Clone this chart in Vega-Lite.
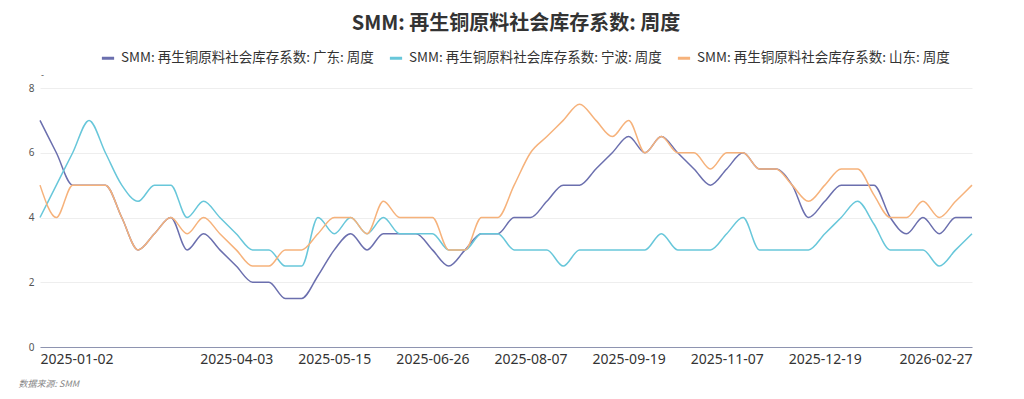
{
  "$schema": "https://vega.github.io/schema/vega-lite/v6.json",
  "width": 932,
  "height": 259,
  "autosize": {"type": "none"},
  "padding": {"left": 40, "top": 88, "right": 52, "bottom": 52},
  "background": "#ffffff",
  "title": {
    "text": "SMM: 再生铜原料社会库存系数: 周度",
    "font": "Noto Sans CJK SC",
    "fontSize": 20,
    "fontWeight": "bold",
    "color": "#333333",
    "anchor": "middle",
    "offset": 16,
    "dx": 10
  },
  "data": {
    "values": [
      {"d": "2025-01-02", "广东": 7, "宁波": 4, "山东": 5},
      {"d": "2025-01-09", "广东": 6, "宁波": 5, "山东": 4},
      {"d": "2025-01-16", "广东": 5, "宁波": 6, "山东": 5},
      {"d": "2025-01-23", "广东": 5, "宁波": 7, "山东": 5},
      {"d": "2025-02-06", "广东": 5, "宁波": 6, "山东": 5},
      {"d": "2025-02-13", "广东": 4, "宁波": 5, "山东": 4},
      {"d": "2025-02-20", "广东": 3, "宁波": 4.5, "山东": 3},
      {"d": "2025-02-27", "广东": 3.5, "宁波": 5, "山东": 3.5},
      {"d": "2025-03-06", "广东": 4, "宁波": 5, "山东": 4},
      {"d": "2025-03-13", "广东": 3, "宁波": 4, "山东": 3.5},
      {"d": "2025-03-20", "广东": 3.5, "宁波": 4.5, "山东": 4},
      {"d": "2025-03-27", "广东": 3, "宁波": 4, "山东": 3.5},
      {"d": "2025-04-03", "广东": 2.5, "宁波": 3.5, "山东": 3},
      {"d": "2025-04-10", "广东": 2, "宁波": 3, "山东": 2.5},
      {"d": "2025-04-17", "广东": 2, "宁波": 3, "山东": 2.5},
      {"d": "2025-04-24", "广东": 1.5, "宁波": 2.5, "山东": 3},
      {"d": "2025-04-30", "广东": 1.5, "宁波": 2.5, "山东": 3},
      {"d": "2025-05-08", "广东": 2.2, "宁波": 4, "山东": 3.5},
      {"d": "2025-05-15", "广东": 3, "宁波": 3.5, "山东": 4},
      {"d": "2025-05-22", "广东": 3.5, "宁波": 4, "山东": 4},
      {"d": "2025-05-29", "广东": 3, "宁波": 3.5, "山东": 3.5},
      {"d": "2025-06-05", "广东": 3.5, "宁波": 4, "山东": 4.5},
      {"d": "2025-06-12", "广东": 3.5, "宁波": 3.5, "山东": 4},
      {"d": "2025-06-19", "广东": 3.5, "宁波": 3.5, "山东": 4},
      {"d": "2025-06-26", "广东": 3, "宁波": 3.5, "山东": 4},
      {"d": "2025-07-03", "广东": 2.5, "宁波": 3, "山东": 3},
      {"d": "2025-07-10", "广东": 3, "宁波": 3, "山东": 3},
      {"d": "2025-07-17", "广东": 3.5, "宁波": 3.5, "山东": 4},
      {"d": "2025-07-24", "广东": 3.5, "宁波": 3.5, "山东": 4},
      {"d": "2025-07-31", "广东": 4, "宁波": 3, "山东": 5},
      {"d": "2025-08-07", "广东": 4, "宁波": 3, "山东": 6},
      {"d": "2025-08-14", "广东": 4.5, "宁波": 3, "山东": 6.5},
      {"d": "2025-08-21", "广东": 5, "宁波": 2.5, "山东": 7},
      {"d": "2025-08-28", "广东": 5, "宁波": 3, "山东": 7.5},
      {"d": "2025-09-04", "广东": 5.5, "宁波": 3, "山东": 7},
      {"d": "2025-09-12", "广东": 6, "宁波": 3, "山东": 6.5},
      {"d": "2025-09-19", "广东": 6.5, "宁波": 3, "山东": 7},
      {"d": "2025-09-26", "广东": 6, "宁波": 3, "山东": 6},
      {"d": "2025-10-10", "广东": 6.5, "宁波": 3.5, "山东": 6.5},
      {"d": "2025-10-17", "广东": 6, "宁波": 3, "山东": 6},
      {"d": "2025-10-24", "广东": 5.5, "宁波": 3, "山东": 6},
      {"d": "2025-10-31", "广东": 5, "宁波": 3, "山东": 5.5},
      {"d": "2025-11-07", "广东": 5.5, "宁波": 3.5, "山东": 6},
      {"d": "2025-11-14", "广东": 6, "宁波": 4, "山东": 6},
      {"d": "2025-11-21", "广东": 5.5, "宁波": 3, "山东": 5.5},
      {"d": "2025-11-28", "广东": 5.5, "宁波": 3, "山东": 5.5},
      {"d": "2025-12-05", "广东": 5, "宁波": 3, "山东": 5},
      {"d": "2025-12-12", "广东": 4, "宁波": 3, "山东": 4.5},
      {"d": "2025-12-19", "广东": 4.5, "宁波": 3.5, "山东": 5},
      {"d": "2025-12-26", "广东": 5, "宁波": 4, "山东": 5.5},
      {"d": "2026-01-02", "广东": 5, "宁波": 4.5, "山东": 5.5},
      {"d": "2026-01-09", "广东": 5, "宁波": 3.8, "山东": 4.7},
      {"d": "2026-01-16", "广东": 4, "宁波": 3, "山东": 4},
      {"d": "2026-01-23", "广东": 3.5, "宁波": 3, "山东": 4},
      {"d": "2026-01-30", "广东": 4, "宁波": 3, "山东": 4.5},
      {"d": "2026-02-06", "广东": 3.5, "宁波": 2.5, "山东": 4},
      {"d": "2026-02-13", "广东": 4, "宁波": 3, "山东": 4.5},
      {"d": "2026-02-27", "广东": 4, "宁波": 3.5, "山东": 5}
    ]
  },
  "transform": [{"fold": ["广东", "宁波", "山东"], "as": ["s", "v"]}],
  "encoding": {
    "x": {
      "field": "d",
      "type": "ordinal",
      "sort": null,
      "scale": {"type": "point", "padding": 0},
      "axis": {
        "values": ["2025-01-02", "2025-04-03", "2025-05-15", "2025-06-26", "2025-08-07", "2025-09-19", "2025-11-07", "2025-12-19", "2026-02-27"],
        "labelAngle": 0,
        "labelAlign": {"condition": [{"test": "datum.value == '2025-01-02'", "value": "left"}, {"test": "datum.value == '2026-02-27'", "value": "right"}], "value": "center"},
        "labelFont": "Noto Sans",
        "labelFontSize": 14,
        "labelColor": "#333333",
        "labelPadding": 5,
        "ticks": false,
        "grid": false,
        "domainColor": "#8e94b0",
        "domainWidth": 1,
        "title": "数据来源: SMM",
        "titleFont": "Noto Sans CJK SC",
        "titleFontSize": 9,
        "titleFontStyle": "italic",
        "titleFontWeight": "normal",
        "titleColor": "#888888",
        "titleAnchor": "start",
        "titleAlign": "left",
        "titleX": -22,
        "titleY": 32
      }
    },
    "y": {
      "field": "v",
      "type": "quantitative",
      "scale": {"domain": [0, 8], "nice": false},
      "axis": {
        "values": [0, 2, 4, 6, 8],
        "labelFont": "Noto Sans",
        "labelFontSize": 10,
        "labelColor": "#555555",
        "labelPadding": 6,
        "ticks": false,
        "domain": false,
        "gridColor": "#eeeeee",
        "gridWidth": 1,
        "title": "-",
        "titleAngle": 0,
        "titleFontSize": 9,
        "titleFontWeight": "normal",
        "titleColor": "#555555",
        "titleAlign": "center",
        "titleBaseline": "middle",
        "titleX": 2,
        "titleY": -14
      }
    },
    "color": {
      "field": "s",
      "type": "nominal",
      "scale": {"domain": ["广东", "宁波", "山东"], "range": ["#6b6fae", "#68c7da", "#f6b27b"]},
      "legend": {
        "orient": "none",
        "direction": "horizontal",
        "legendX": 60,
        "legendY": -38,
        "title": null,
        "labelExpr": "'SMM: 再生铜原料社会库存系数: ' + datum.label + ': 周度'",
        "labelFont": "Noto Sans CJK SC",
        "labelFontSize": 13.5,
        "labelColor": "#333333",
        "labelLimit": 400,
        "symbolType": "stroke",
        "symbolStrokeWidth": 3,
        "symbolSize": 150,
        "columnPadding": 9,
        "labelOffset": 5
      }
    }
  },
  "layer": [
    {"transform": [{"filter": "datum.s == '广东'"}], "mark": {"type": "line", "interpolate": "monotone", "strokeWidth": 1.5}},
    {"transform": [{"filter": "datum.s == '宁波'"}], "mark": {"type": "line", "interpolate": "monotone", "strokeWidth": 1.5}},
    {"transform": [{"filter": "datum.s == '山东'"}], "mark": {"type": "line", "interpolate": "monotone", "strokeWidth": 1.5}}
  ],
  "config": {"view": {"stroke": null}}
}
